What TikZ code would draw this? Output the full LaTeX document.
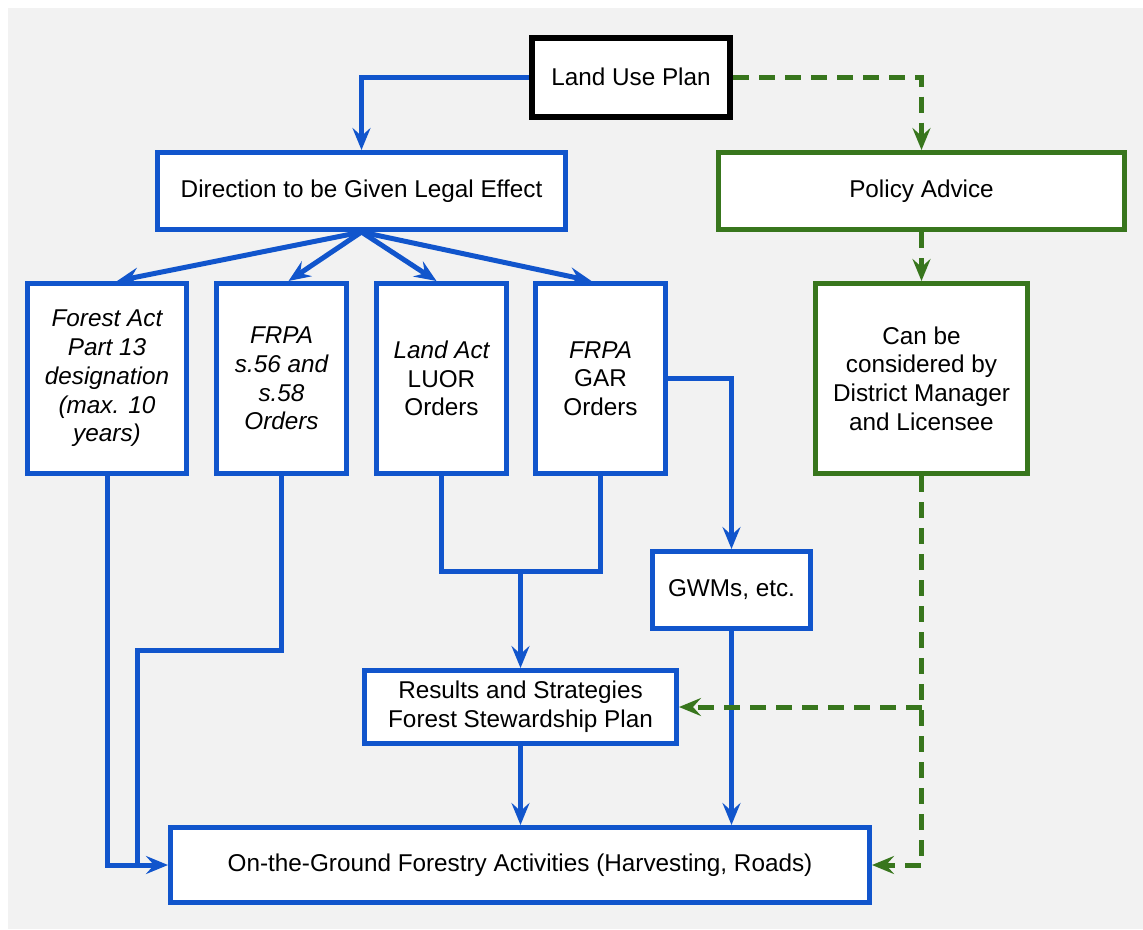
\documentclass[tikz,border=0pt]{standalone}
\usepackage{fontspec}
\setmainfont{Liberation Sans}
\usetikzlibrary{arrows.meta,calc}

\definecolor{planBlue}{HTML}{1155CC}
\definecolor{adviceGreen}{HTML}{38761D}
\definecolor{paperGrey}{HTML}{F2F2F2}

\begin{document}
\begin{tikzpicture}[x=1pt,y=-1pt,
  font=\fontsize{24.3}{28.7}\selectfont,
  >={Stealth[length=22pt,width=18pt,inset=8pt]},
  box/.style={draw,fill=white,line width=5pt,align=center,inner sep=4pt},
  bluebox/.style={box,draw=planBlue},
  greenbox/.style={box,draw=adviceGreen},
  blueline/.style={draw=planBlue,line width=5pt},
  greenline/.style={draw=adviceGreen,line width=5pt,dash pattern=on 16pt off 10pt}]
  \useasboundingbox (0,0) rectangle (1143,929);
  \fill[paperGrey] (8,8) rectangle (1143,929);
  % top row
  \node[box,draw=black,line width=6pt,minimum width=198pt,minimum height=79pt] (lup) at (631,77) {Land Use Plan};
  \node[bluebox,minimum width=408pt,minimum height=77pt] (dir) at (361.5,191) {Direction to be Given Legal Effect};
  \node[greenbox,minimum width=406pt,minimum height=77pt] (pol) at (921.5,191) {Policy Advice};
  % orders
  \node[bluebox,minimum width=159pt,minimum height=190pt] (f1) at (107,378.5)
    {\itshape Forest Act\\\itshape Part 13\\\itshape designation\\\itshape (max. 10\\\itshape years)};
  \node[bluebox,minimum width=130pt,minimum height=190pt] (f2) at (281.5,378.5)
    {\itshape FRPA\\\itshape s.56 and\\\itshape s.58\\\itshape Orders};
  \node[bluebox,minimum width=130pt,minimum height=190pt] (f3) at (441.5,378.5)
    {\itshape Land Act\\LUOR\\Orders};
  \node[bluebox,minimum width=130pt,minimum height=190pt] (f4) at (600.5,378.5)
    {\itshape FRPA\\GAR\\Orders};
  \node[greenbox,minimum width=212pt,minimum height=190pt] (cbc) at (921.5,378.5)
    {Can be\\considered by\\District Manager\\and Licensee};
  % lower part
  \node[bluebox,minimum width=158pt,minimum height=77pt] (gwm) at (731.5,590) {GWMs, etc.};
  \node[bluebox,minimum width=312pt,minimum height=73pt] (res) at (520.5,707)
    {Results and Strategies\\Forest Stewardship Plan};
  \node[bluebox,minimum width=699pt,minimum height=75pt] (otg) at (520,865)
    {On-the-Ground Forestry Activities (Harvesting, Roads)};
  \coordinate (join) at (520.5,571);
  \coordinate (bend) at (137,650);
  % blue flow
  \draw[blueline,->] (lup.west) -| (dir.north);
  \draw[blueline,->] (dir.south) -- ($(f1.north)+(10,0)$);
  \draw[blueline,->] (dir.south) -- ($(f2.north)+(7,0)$);
  \draw[blueline,->] (dir.south) -- ($(f3.north)+(-5,0)$);
  \draw[blueline,->] (dir.south) -- ($(f4.north)+(-9,0)$);
  \draw[blueline,->] (f4.east) -| (gwm.north);
  \draw[blueline] (f3.south) |- (join) -| (f4.south);
  \draw[blueline,->] (join) -- (res.north);
  \draw[blueline] (f2.south) |- (bend) -- (bend |- otg.west);
  \draw[blueline,->] (f1.south) |- (otg.west);
  \draw[blueline,->] (res.south) -- (res.south |- otg.north);
  \draw[blueline,->] (gwm.south) -- (gwm.south |- otg.north);
  % green advice
  \draw[greenline,->] (lup.east) -| (pol.north);
  \draw[greenline,->] (pol.south) -- (cbc.north);
  \draw[greenline,->] (cbc.south) |- (otg.east);
  \draw[greenline,->] (cbc.south |- res.east) -- (res.east);
\end{tikzpicture}
\end{document}
